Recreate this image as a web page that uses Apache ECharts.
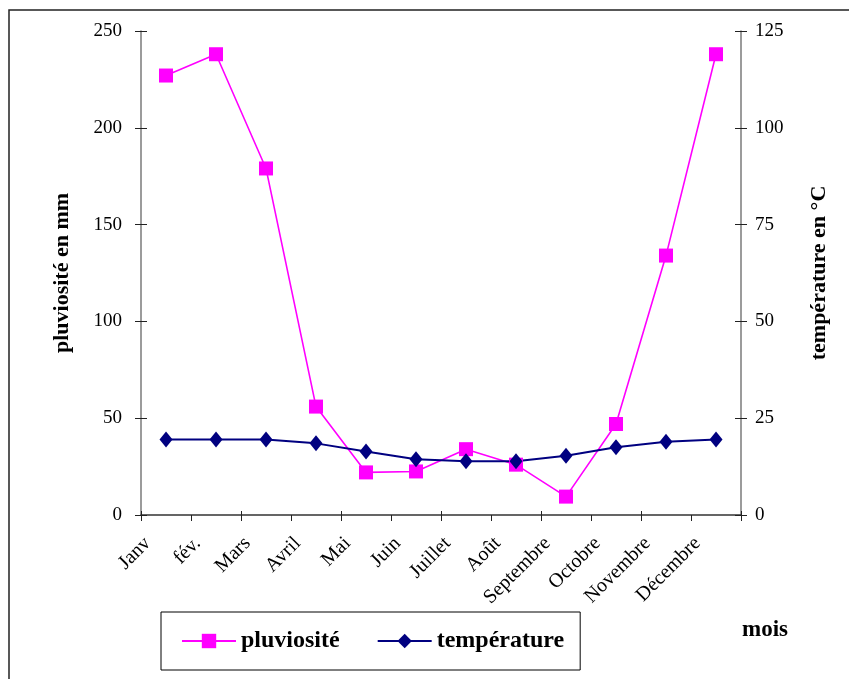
<!DOCTYPE html>
<html>
<head>
<meta charset="utf-8">
<script src="https://cdn.jsdelivr.net/npm/echarts@6/dist/echarts.min.js"></script>
<style>
  html, body { margin: 0; padding: 0; background: #fff; }
  #chart { width: 849px; height: 679px; }
</style>
</head>
<body>
<div id="chart"></div>
<script>
// Monthly climate data
const months = ['Janv', 'fév.', 'Mars', 'Avril', 'Mai', 'Juin', 'Juillet', 'Août', 'Septembre', 'Octobre', 'Novembre', 'Décembre'];
const rainfall = [227, 238, 179, 56, 22, 22.5, 34, 26, 9.5, 47, 134, 238];      // mm
const temperature = [19.5, 19.5, 19.5, 18.5, 16.4, 14.4, 13.9, 13.9, 15.3, 17.5, 18.9, 19.5]; // °C
const rainTicks = { min: 0, max: 250, step: 50 };
const tempTicks = { min: 0, max: 125, step: 25 };

const serif = "'Liberation Serif', 'Times New Roman', serif";
const chart = echarts.init(document.getElementById('chart'), null, { renderer: 'canvas' });

const tickStyle = { color: '#222', width: 1 };
const axisLineStyle = { color: '#7a7a7a', width: 1.5 };
const nameStyle = { fontFamily: serif, fontWeight: 'bold', fontSize: 22, color: '#000' };

chart.setOption({
  animation: false,
  backgroundColor: '#fff',
  grid: { left: 141, right: 108, top: 31, bottom: 164 },
  legend: {
    left: 161, top: 612,
    padding: [17, 16, 17, 20],
    borderColor: '#000', borderWidth: 1,
    itemGap: 37, itemWidth: 54, itemHeight: 18, textGap: 6,
    textStyle: { fontFamily: serif, fontWeight: 'bold', fontSize: 24, color: '#000' },
    data: ['pluviosité', 'température']
  },
  xAxis: [
    {
      type: 'category', data: months, boundaryGap: true,
      axisLine: { lineStyle: { color: '#333', width: 1.5 } },
      axisTick: { show: true, length: 6, lineStyle: tickStyle },
      axisLabel: {
        rotate: 45, margin: 7, padding: [0, 26, 0, 0],
        fontFamily: serif, fontSize: 20, color: '#000', interval: 0
      },
      splitLine: { show: false }
    },
    {
      type: 'category', data: months, boundaryGap: true, position: 'bottom',
      axisLine: { show: false },
      axisTick: { show: true, inside: true, length: 4, lineStyle: tickStyle },
      axisLabel: { show: false },
      splitLine: { show: false }
    }
  ],
  yAxis: [
    {
      type: 'value', position: 'left', min: rainTicks.min, max: rainTicks.max, interval: rainTicks.step,
      name: 'pluviosité en mm', nameLocation: 'middle', nameGap: 68, nameRotate: 90,
      nameTextStyle: nameStyle,
      axisLine: { show: true, lineStyle: axisLineStyle },
      axisTick: { show: true, length: 6, lineStyle: tickStyle },
      axisLabel: { margin: 19, fontFamily: serif, fontSize: 19, color: '#000' },
      splitLine: { show: false }
    },
    {
      type: 'value', position: 'right', min: tempTicks.min, max: tempTicks.max, interval: tempTicks.step,
      name: 'température en °C', nameLocation: 'middle', nameGap: 67, nameRotate: 90,
      nameTextStyle: nameStyle,
      axisLine: { show: true, lineStyle: axisLineStyle },
      axisTick: { show: true, length: 6, lineStyle: tickStyle },
      axisLabel: { margin: 14, fontFamily: serif, fontSize: 19, color: '#000' },
      splitLine: { show: false }
    },
    {
      type: 'value', position: 'left', min: rainTicks.min, max: rainTicks.max, interval: rainTicks.step,
      axisLine: { show: false },
      axisTick: { show: true, inside: true, length: 6, lineStyle: tickStyle },
      axisLabel: { show: false }, splitLine: { show: false }
    },
    {
      type: 'value', position: 'right', min: tempTicks.min, max: tempTicks.max, interval: tempTicks.step,
      axisLine: { show: false },
      axisTick: { show: true, inside: true, length: 6, lineStyle: tickStyle },
      axisLabel: { show: false }, splitLine: { show: false }
    }
  ],
  series: [
    {
      name: 'pluviosité', type: 'line', yAxisIndex: 0, data: rainfall,
      symbol: 'rect', symbolSize: 14,
      lineStyle: { color: '#ff00ff', width: 1.6 },
      itemStyle: { color: '#ff00ff' }
    },
    {
      name: 'température', type: 'line', yAxisIndex: 1, data: temperature,
      symbol: 'diamond', symbolSize: [13, 16],
      lineStyle: { color: '#000080', width: 2 },
      itemStyle: { color: '#000080' }
    }
  ],
  graphic: [
    {
      type: 'polyline',
      shape: { points: [[9, 679], [9, 10], [849, 10]] },
      style: { stroke: '#222', lineWidth: 1.5, fill: null }
    },
    {
      type: 'text', left: 742, top: 619,
      style: { text: 'mois', fontFamily: serif, fontWeight: 'bold', fontSize: 23, fill: '#000' }
    }
  ]
});
</script>
</body>
</html>
